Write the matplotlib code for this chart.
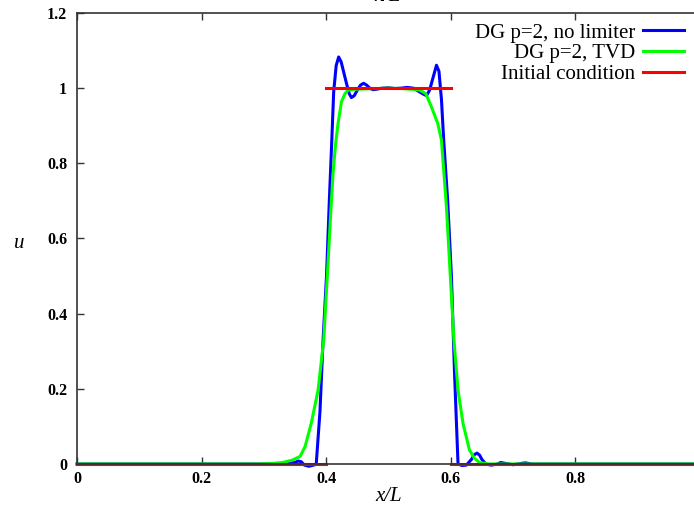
import matplotlib
matplotlib.use("Agg")
import matplotlib.pyplot as plt

plt.rcParams['font.family'] = ['Liberation Serif', 'DejaVu Serif']

# DG p=2, no limiter
x_nolim = [0.0, 0.30, 0.33, 0.35, 0.355, 0.36, 0.365, 0.372, 0.38, 0.384,
           0.39, 0.395, 0.4005, 0.405, 0.409, 0.412, 0.416, 0.420, 0.424,
           0.4325, 0.437, 0.4405, 0.445, 0.45, 0.455, 0.46, 0.465, 0.47,
           0.475, 0.48, 0.49, 0.50, 0.51, 0.52, 0.53, 0.54, 0.55, 0.555,
           0.561, 0.566, 0.571, 0.577, 0.581, 0.585, 0.5886, 0.595, 0.601,
           0.606, 0.6116, 0.618, 0.625, 0.633, 0.638, 0.642, 0.646, 0.650,
           0.656, 0.665, 0.675, 0.68, 0.69, 0.70, 0.715, 0.72, 0.73, 1.0]
u_nolim = [0.0, 0.0, 0.001, 0.004, 0.008, 0.006, -0.003, -0.006, -0.003, 0.0,
           0.14, 0.33, 0.50, 0.70, 0.862, 0.99, 1.06, 1.083, 1.07,
           1.013, 0.985, 0.975, 0.98, 0.995, 1.008, 1.013, 1.008, 1.0,
           0.996, 0.997, 1.0, 1.001, 0.999, 1.0, 1.002, 1.0, 0.99, 0.985,
           0.98, 0.995, 1.025, 1.061, 1.045, 0.97, 0.862, 0.70, 0.50,
           0.241, 0.0, -0.004, -0.003, 0.012, 0.025, 0.029, 0.024, 0.012,
           0.0, -0.003, 0.0, 0.004, 0.001, -0.002, 0.002, 0.003, 0.0, 0.0]

# DG p=2, TVD
x_tvd = [0.0, 0.29, 0.31, 0.33, 0.345, 0.358, 0.366, 0.376, 0.387, 0.396,
         0.402, 0.407, 0.411, 0.415, 0.419, 0.4245, 0.43, 0.435, 0.445,
         0.46, 0.48, 0.50, 0.52, 0.54, 0.55, 0.56, 0.569, 0.579, 0.585,
         0.593, 0.599, 0.605, 0.6116, 0.6196, 0.630, 0.638, 0.646, 0.66, 1.0]
u_tvd = [0.0, 0.0, 0.001, 0.004, 0.01, 0.02, 0.046, 0.108, 0.197, 0.33,
         0.507, 0.66, 0.774, 0.85, 0.906, 0.964, 0.985, 0.995, 0.997,
         0.998, 0.999, 1.0, 0.999, 0.997, 0.995, 0.985, 0.95, 0.906, 0.862,
         0.684, 0.507, 0.33, 0.197, 0.108, 0.037, 0.015, 0.004, 0.0, 0.0]

# Initial condition (piecewise, no vertical jumps)
x_init = [0.0, 0.4, None, 0.4, 0.6, None, 0.6, 1.0]
u_init = [0.0, 0.0, None, 1.0, 1.0, None, 0.0, 0.0]

xticks = [0, 0.2, 0.4, 0.6, 0.8, 1]
xticklabels = ['0', '0.2', '0.4', '0.6', '0.8', '']  # "1" falls outside the picture
yticks = [0, 0.2, 0.4, 0.6, 0.8, 1, 1.2]
yticklabels = ['0', '0.2', '0.4', '0.6', '0.8', '1', '1.2']

fig = plt.figure(figsize=(6.94, 5.09), dpi=100)
ax = fig.add_axes([77 / 694, 45 / 509, 623 / 694, 451 / 509])

xi = [float('nan') if v is None else v for v in x_init]
ui = [float('nan') if v is None else v for v in u_init]

ax.plot(x_nolim, u_nolim, color='#0000ff', lw=2.2, label='DG p=2, no limiter', clip_on=False)
ax.plot(x_tvd, u_tvd, color='#00ff00', lw=2.2, label='DG p=2, TVD', clip_on=False)
ax.plot(xi, ui, color='#ff0000', lw=2.2, label='Initial condition', clip_on=False)

ax.set_xlim(0, 1)
ax.set_ylim(0, 1.2)
ax.set_xticks(xticks)
ax.set_xticklabels(xticklabels)
ax.set_yticks(yticks)
ax.set_yticklabels(yticklabels)
ax.tick_params(direction='in', length=5, width=1, top=True, right=False,
               labelsize=11.5, color='#333333')
ax.tick_params(axis='x', pad=5)
ax.tick_params(axis='y', pad=7)
for lab in ax.get_xticklabels() + ax.get_yticklabels():
    lab.set_fontweight('bold')
for sp in ax.spines.values():
    sp.set_color('#333333')
    sp.set_linewidth(1.2)
    sp.set_zorder(3)

ax.set_xlabel('x/L', fontsize=15, style='italic', labelpad=0)
ax.set_ylabel('u', fontsize=15, style='italic', rotation=0, va='center', labelpad=0)
ax.yaxis.set_label_coords(-0.092, 0.49)
fig.text(388 / 694, 1.0 - 6 / 509, 'x/L', fontsize=15, style='italic',
         ha='center', va='bottom')

ax.legend(loc='upper right', bbox_to_anchor=((684 - 77) / 623, 1.0 - 10 / 451),
          markerfirst=False, frameon=False, fontsize=15, handlelength=1.95,
          handletextpad=0.4, labelspacing=0.05, borderaxespad=0, borderpad=0)

fig.savefig('out.png', dpi=100)
